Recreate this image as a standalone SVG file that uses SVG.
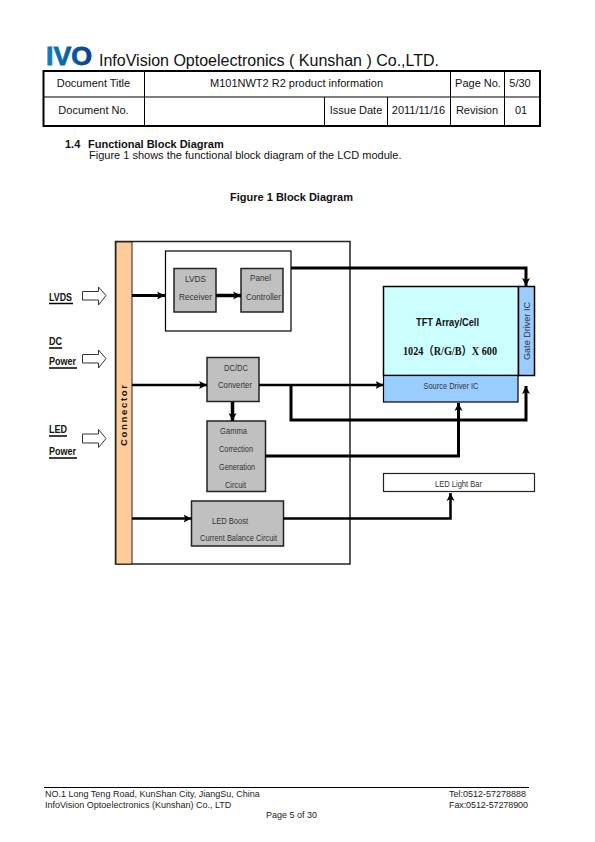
<svg xmlns="http://www.w3.org/2000/svg" width="595" height="842" viewBox="0 0 595 842">
<style>
text{font-family:"Liberation Sans",Arial,sans-serif;fill:#111}
.t{font-size:11px;text-anchor:middle}
.h{font-size:11px;font-weight:bold}
.b{font-size:11px}
.f{font-size:9px;fill:#222}
.n{font-size:8.5px;fill:#333}
.l{font-size:10px;font-weight:bold}
.box{fill:#c0c0c0;stroke:#222;stroke-width:1.5}
.c{fill:none;stroke:#000;stroke-linejoin:miter}
.in{fill:#fff;stroke:#333;stroke-width:1}
.u{stroke:#000;stroke-width:1.5}
</style>
<defs>
<linearGradient id="g" x1="0" x2="1" y1="0" y2="0"><stop offset="0" stop-color="#0a7fc0"/><stop offset="1" stop-color="#0b3f88"/></linearGradient>
<marker id="a" markerUnits="userSpaceOnUse" markerWidth="10" markerHeight="10" refX="8" refY="5" orient="auto"><path d="M0 1 L8 5 L0 9 L2 5Z" fill="#000"/></marker>
</defs>
<rect width="595" height="842" fill="#fff"/>
<g id="header">
<text x="46" y="65" style="font-size:25px;font-weight:bold;fill:url(#g);stroke:url(#g);stroke-width:.8" textLength="46" lengthAdjust="spacingAndGlyphs">IVO</text>
<text x="99" y="66" style="font-size:16px" fill="#222">InfoVision Optoelectronics ( Kunshan ) Co.,LTD.</text>
</g>
<g id="table">
<rect x="43.500" y="71" width="496.500" height="55" fill="none" stroke="#000" stroke-width="2"/>
<path d="M44 97H540M144.500 71V126M450.500 71V126M504.500 71V126M324.500 97V126M387.500 97V126" fill="none" stroke="#000" stroke-width="1"/>
<text class="t" x="93.500" y="87">Document Title</text>
<text class="t" x="93.500" y="114">Document No.</text>
<text class="t" x="296.500" y="87">M101NWT2 R2 product information</text>
<text class="t" x="478" y="87">Page No.</text>
<text class="t" x="520" y="87">5/30</text>
<text class="t" x="356" y="114">Issue Date</text>
<text class="t" x="418.500" y="114">2011/11/16</text>
<text class="t" x="477" y="114">Revision</text>
<text class="t" x="521" y="114">01</text>
</g>
<g id="intro">
<text class="h" x="65" y="148">1.4</text>
<text class="h" x="88" y="148">Functional Block Diagram</text>
<text class="b" x="89" y="159">Figure 1 shows the functional block diagram of the LCD module.</text>
<text class="h" x="291.500" y="201" text-anchor="middle">Figure 1 Block Diagram</text>
</g>
<g id="module">
<rect x="115.500" y="241.500" width="234.500" height="322.500" fill="#fff" stroke="#222" stroke-width="1.500"/>
</g>
<g id="connector">
<rect x="116" y="242" width="16" height="322" fill="#ffcc99" stroke="#222" stroke-width="1"/>
<text transform="translate(127,446) rotate(-90)" style="font-size:9.500px;font-weight:bold" textLength="61">Connector</text>
</g>
<g id="timing-box"><rect x="165.500" y="251" width="125.500" height="80" fill="#fff" stroke="#000" stroke-width="1.200"/></g>
<g id="lvds-receiver"><rect class="box" x="174" y="268.500" width="42" height="43.500"/><text class="n" x="185" y="282" textLength="21" lengthAdjust="spacingAndGlyphs">LVDS</text><text class="n" x="179" y="300" textLength="33" lengthAdjust="spacingAndGlyphs">Receiver</text></g>
<g id="panel-controller"><rect class="box" x="241" y="268.500" width="42" height="43.500"/><text class="n" x="250" y="281" textLength="21" lengthAdjust="spacingAndGlyphs">Panel</text><text class="n" x="246" y="300" textLength="35" lengthAdjust="spacingAndGlyphs">Controller</text></g>
<g id="dcdc"><rect class="box" x="207" y="357.500" width="52" height="44"/><text class="n" x="224" y="371" textLength="24" lengthAdjust="spacingAndGlyphs">DC/DC</text><text class="n" x="218" y="388" textLength="34" lengthAdjust="spacingAndGlyphs">Converter</text></g>
<g id="gamma"><rect class="box" x="207" y="421" width="58.500" height="70.500"/><text class="n" x="220" y="434" textLength="27" lengthAdjust="spacingAndGlyphs">Gamma</text><text class="n" x="219" y="452" textLength="34" lengthAdjust="spacingAndGlyphs">Correction</text><text class="n" x="219" y="470" textLength="36" lengthAdjust="spacingAndGlyphs">Generation</text><text class="n" x="225" y="488" textLength="21" lengthAdjust="spacingAndGlyphs">Circuit</text></g>
<g id="led-boost"><rect class="box" x="191.500" y="501" width="92" height="45"/><text class="n" x="212" y="524" textLength="36" lengthAdjust="spacingAndGlyphs">LED Boost</text><text class="n" x="200" y="541" textLength="77" lengthAdjust="spacingAndGlyphs">Current Balance Circuit</text></g>
<g id="tft"><rect x="383.500" y="286.500" width="135" height="89" fill="#ccffff" stroke="#000" stroke-width="1.500"/><text x="416" y="326" style="font-size:10.500px;font-weight:bold" textLength="63" lengthAdjust="spacingAndGlyphs">TFT Array/Cell</text><text x="403" y="355" style="font-family:'Liberation Serif','Noto Sans CJK SC',serif;font-size:11.500px;font-weight:bold" textLength="94" lengthAdjust="spacingAndGlyphs">1024（R/G/B）X 600</text></g>
<g id="gate-driver"><rect x="518.500" y="286.500" width="16" height="89" fill="#99ccff" stroke="#000" stroke-width="1.500"/><text class="n" transform="translate(530,360) rotate(-90)" textLength="58" lengthAdjust="spacingAndGlyphs">Gate Driver IC</text></g>
<g id="source-driver"><rect x="383.500" y="375.500" width="134.500" height="26.500" fill="#99ccff" stroke="#000" stroke-width="1.200"/><text class="n" x="423.500" y="389" textLength="55" lengthAdjust="spacingAndGlyphs">Source Driver IC</text></g>
<g id="led-bar"><rect x="383.500" y="473.500" width="151" height="18" fill="#fff" stroke="#222" stroke-width="1.200"/><text class="n" x="435" y="487" textLength="47" lengthAdjust="spacingAndGlyphs">LED Light Bar</text></g>
<g id="connectors">
<path class="c" stroke-width="3" d="M132 295.500H165" marker-end="url(#a)"/>
<path class="c" stroke-width="3.500" d="M216 295.500H241" marker-end="url(#a)"/>
<path class="c" stroke-width="3" d="M291 268H526V286" marker-end="url(#a)"/>
<path class="c" stroke-width="2.500" d="M132 385H207" marker-end="url(#a)"/>
<path class="c" stroke-width="2.500" d="M259 385H383.500" marker-end="url(#a)"/>
<path class="c" stroke-width="3" d="M291 385V420H526V386" marker-end="url(#a)"/>
<path class="c" stroke-width="3.500" d="M232.500 402V421" marker-end="url(#a)"/>
<path class="c" stroke-width="3" d="M265.500 456H458.500V403" marker-end="url(#a)"/>
<path class="c" stroke-width="2.500" d="M132 518.500H191.500" marker-end="url(#a)"/>
<path class="c" stroke-width="2.500" d="M283.500 518.500H450.500V493" marker-end="url(#a)"/>
</g>
<g id="input-lvds"><path class="in" d="M82.500 291.500H98.500V287L106 295.500L98.500 305V300H82.500Z"/><text class="l" x="49" y="301" textLength="23" lengthAdjust="spacingAndGlyphs">LVDS</text><path class="u" d="M49 303.500H73"/></g>
<g id="input-dc"><path class="in" d="M82.500 354.500H98.500V350L106 358.500L98.500 368V363H82.500Z"/><text class="l" x="49" y="345" textLength="13" lengthAdjust="spacingAndGlyphs">DC</text><path class="u" d="M49 348H62"/><text class="l" x="49" y="365" textLength="27" lengthAdjust="spacingAndGlyphs">Power</text><path class="u" d="M49 368H77"/></g>
<g id="input-led"><path class="in" d="M82.500 434H98.500V429.500L106 438.500L98.500 447.500V443H82.500Z"/><text class="l" x="49" y="433" textLength="18" lengthAdjust="spacingAndGlyphs">LED</text><path class="u" d="M49 436H67"/><text class="l" x="49" y="455" textLength="27" lengthAdjust="spacingAndGlyphs">Power</text><path class="u" d="M49 458H77"/></g>
<g id="footer">
<path d="M44 787.500H529" stroke="#000" stroke-width="1"/>
<text class="f" x="45" y="797">NO.1 Long Teng Road, KunShan City, JiangSu, China</text>
<text class="f" x="45" y="808">InfoVision Optoelectronics (Kunshan) Co., LTD</text>
<text class="f" x="449" y="797">Tel:0512-57278888</text>
<text class="f" x="449" y="808" textLength="79">Fax:0512-57278900</text>
<text class="f" x="266" y="818">Page 5 of 30</text>
</g>
</svg>
